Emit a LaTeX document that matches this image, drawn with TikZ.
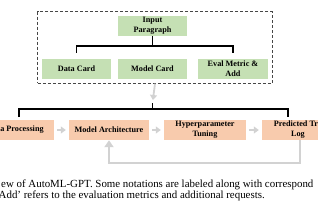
\documentclass[tikz,border=0pt]{standalone}
\usepackage{fontspec}
\setmainfont{Liberation Serif}
\usepackage{xcolor}
\definecolor{cardgreen}{RGB}{197,224,180}
\definecolor{steporange}{RGB}{248,203,173}
\definecolor{flowgray}{RGB}{210,210,210}
\definecolor{framegray}{RGB}{70,70,70}
\usetikzlibrary{positioning,arrows.meta,fit}
\tikzset{
  cardbox/.style={fill=cardgreen,minimum height=20pt,inner sep=0pt,align=center,
    font=\bfseries\fontsize{8.2}{10}\selectfont},
  procbox/.style={fill=steporange,minimum height=20pt,inner sep=0pt,align=center,
    font=\bfseries\fontsize{8.2}{10}\selectfont},
  flow/.style={flowgray,line width=1.8pt,-{Triangle[width=7pt,length=5pt]}},
  bracket/.style={black,line width=1.1pt},
  captext/.style={anchor=base west,inner sep=0pt,font=\fontsize{10.9}{12}\selectfont}
}

\begin{document}
\begin{tikzpicture}[x=1pt,y=-1pt]
  \useasboundingbox (0,0) rectangle (318,210);
  % Entrada: parrafo y tarjetas
  \node[cardbox,minimum width=69pt] (paragraph) at (152.5,26) {Input\\Paragraph};
  \node[cardbox,minimum width=69pt] (datacard) at (76.5,69) {Data Card};
  \node[cardbox,minimum width=69pt] (modelcard) at (152.5,69) {Model Card};
  \node[cardbox,minimum width=70pt] (evalcard) at (233,69) {Eval Metric \&\\Add};
  \node[draw=framegray,line width=1pt,dash pattern=on 3pt off 2pt,inner sep=4pt,
    fit=(paragraph)(datacard)(evalcard)] (inputs) {};
  \coordinate (brtop) at (152.5,46);
  \draw[bracket] (paragraph.south) -- (brtop);
  \draw[bracket] ([yshift=6pt]datacard.north) |- (brtop) -| ([yshift=6pt]evalcard.north);
  % Pipeline
  \node[procbox,minimum width=64pt] (dataproc) at (22,130) {a Processing};
  \node[procbox,minimum width=80pt] (modelarch) at (109,130) {Model Architecture};
  \node[procbox,minimum width=82pt] (hyper) at (205,130) {Hyperparameter\\Tuning};
  \node[procbox,minimum width=72pt] (trainlog) at (298,130) {Predicted Tra\\Log};
  \coordinate (stemtop) at (152.5,103);
  \coordinate (brmid) at (152.5,109);
  \coordinate (brleft) at (19,117);
  \coordinate (brright) at (288,117);
  \draw[flow,shorten >=3pt] (inputs.south) -- (stemtop);
  \draw[bracket] (stemtop) -- (brmid);
  \draw[bracket] (brleft) |- (brmid) -| (brright);
  \foreach \a/\b in {dataproc/modelarch,modelarch/hyper,hyper/trainlog}
    \draw[flow,shorten <=3pt,shorten >=3pt] (\a) -- (\b);
  \draw[flow,-{Triangle[width=9pt,length=7pt]}] ([xshift=2pt]trainlog.south) -- ++(0,23) -| (modelarch.south);
  % Leyenda
  \node[captext] (caption1) at (1,187.5) {ew of AutoML-GPT. Some notations are labeled along with correspond};
  \node[captext] (caption2) at (-1.5,198.5) {Add’ refers to the evaluation metrics and additional requests.};
\end{tikzpicture}
\end{document}
